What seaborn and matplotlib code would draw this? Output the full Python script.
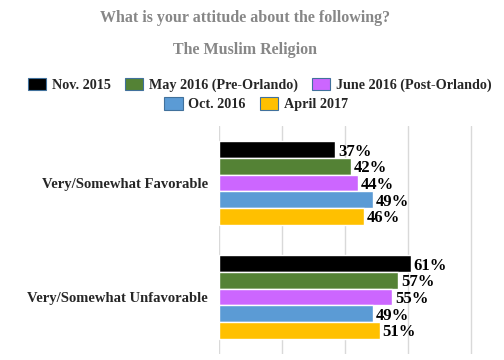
import numpy as np
import pandas as pd
import matplotlib
matplotlib.use("Agg")
import matplotlib.pyplot as plt
import seaborn as sns
from matplotlib.patches import Patch

# values
categories = ["Very/Somewhat Favorable", "Very/Somewhat Unfavorable"]
periods = ["Nov. 2015", "May 2016 (Pre-Orlando)", "June 2016 (Post-Orlando)",
           "Oct. 2016", "April 2017"]
favorable = [37, 42, 44, 49, 46]
unfavorable = [61, 57, 55, 49, 51]
colors = ["#000000", "#548235", "#CC66FF", "#5B9BD5", "#FFC000"]

df = pd.DataFrame({
    "attitude": [categories[0]] * 5 + [categories[1]] * 5,
    "period": periods * 2,
    "pct": favorable + unfavorable,
})

sns.set_style("white")
plt.rcParams['font.family'] = ['Liberation Serif', 'DejaVu Serif']
plt.rcParams['font.weight'] = 'bold'

fig = plt.figure(figsize=(5.04, 3.6), dpi=100)
ax = fig.add_axes([219/504, 1 - 354/360, 277/504, 228/360])

sns.barplot(data=df, y="attitude", x="pct", hue="period", hue_order=periods,
            order=categories, palette=colors, width=0.73, saturation=1,
            orient="h", legend=False, ax=ax)

# percentage labels just right of each bar, a touch below centre
for cont in ax.containers:
    labels = ax.bar_label(cont, fmt="%d%%", padding=2, fontsize=12, fontweight="bold",
                          color="#000000")
    for t in labels:
        t.xyann = (t.xyann[0], -1.5)

ax.set_xlim(0, 88)
ax.set_xticks([0, 20, 40, 60, 80])
ax.set_xticklabels([])
ax.grid(axis="x", color="#D9D9D9", linewidth=1)
ax.set_axisbelow(True)
for s in ax.spines.values():
    s.set_visible(False)
ax.tick_params(axis="y", length=0, pad=8, labelsize=10.5)
ax.tick_params(axis="x", length=0)
ax.set_xlabel("")
ax.set_ylabel("")

fig.text(0.487, 1 - 18/360, "What is your attitude about the following?",
         ha="center", va="center", fontsize=11.5, color="#878787", fontweight="bold")
fig.text(0.487, 1 - 50/360, "The Muslim Religion",
         ha="center", va="center", fontsize=11.5, color="#878787", fontweight="bold")

handles = [Patch(facecolor=c, edgecolor="#41719C", linewidth=0.8) for c in colors]
fig.legend(handles[:3], periods[:3], loc="center", ncol=3,
           bbox_to_anchor=(0.515, 1 - 85/360), frameon=False,
           fontsize=10.2, handlelength=1.3, handleheight=1.0,
           handletextpad=0.4, columnspacing=1.0)
fig.legend(handles[3:], periods[3:], loc="center", ncol=2,
           bbox_to_anchor=(0.508, 1 - 104/360), frameon=False,
           fontsize=10.2, handlelength=1.3, handleheight=1.0,
           handletextpad=0.4, columnspacing=1.0)

fig.savefig("out.png", dpi=100)
